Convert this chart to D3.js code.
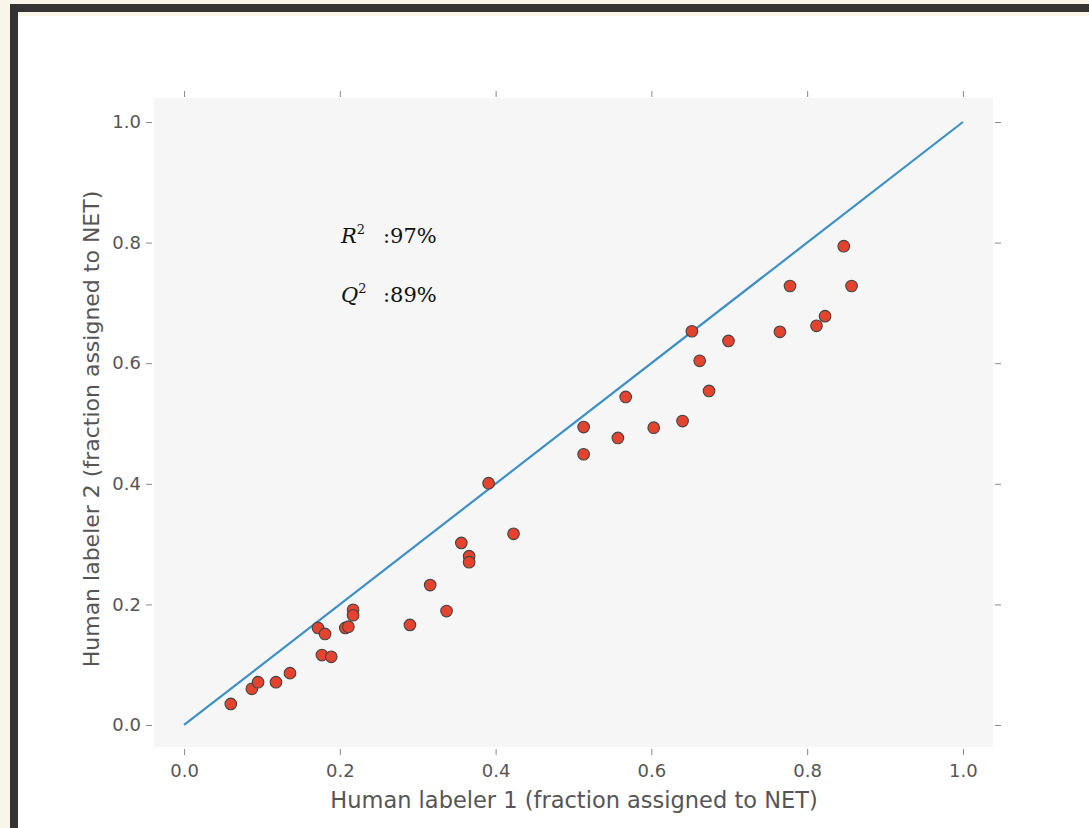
<!DOCTYPE html>
<html>
<head>
<meta charset="utf-8">
<script src="https://cdn.jsdelivr.net/npm/d3@7"></script>
<style>
  html, body { margin: 0; padding: 0; background: #f9f6e9; }
  svg { display: block; }
  .tick text { font-family: "DejaVu Sans", sans-serif; font-size: 18px; fill: #555; }
  .tick line { stroke: #888; }
</style>
</head>
<body>
<div id="chart"></div>
<script>
// human labeler agreement, fraction assigned to NET
var labeler1 = [0.060, 0.087, 0.095, 0.118, 0.136, 0.172, 0.181, 0.177, 0.189, 0.207,
                0.211, 0.217, 0.217, 0.290, 0.316, 0.337, 0.356, 0.366, 0.366, 0.391,
                0.423, 0.513, 0.513, 0.557, 0.567, 0.603, 0.640, 0.652, 0.662, 0.674,
                0.699, 0.765, 0.778, 0.812, 0.823, 0.847, 0.857];
var labeler2 = [0.035, 0.060, 0.071, 0.071, 0.086, 0.161, 0.151, 0.116, 0.113, 0.161,
                0.163, 0.191, 0.182, 0.166, 0.232, 0.189, 0.302, 0.280, 0.270, 0.401,
                0.317, 0.494, 0.449, 0.476, 0.544, 0.493, 0.504, 0.653, 0.604, 0.554,
                0.637, 0.652, 0.728, 0.662, 0.678, 0.794, 0.728];
var diagonal = [0, 1];
var tickValues = [0, 0.2, 0.4, 0.6, 0.8, 1.0];
var scores = [["R", ":97%"], ["Q", ":89%"]];

var width = 1089, height = 828;
var svg = d3.select('#chart').append('svg')
            .attr('width', width)
            .attr('height', height);

// page frame
svg.append('rect').attr('x', 10).attr('y', 4).attr('width', width).attr('height', height).attr('fill', '#333');
svg.append('rect').attr('x', 18).attr('y', 12).attr('width', width).attr('height', height).attr('fill', '#f9f6e9');
svg.append('rect').attr('x', 18).attr('y', 16).attr('width', width).attr('height', height).attr('fill', '#fff');

var x = d3.scaleLinear().domain([-0.0386, 1.0386]).range([154, 993]);
var y = d3.scaleLinear().domain([-0.0365, 1.0398]).range([747, 98]);

svg.append('rect')
   .attr('x', x(-0.0386)).attr('y', y(1.0398))
   .attr('width', x(1.0386) - x(-0.0386))
   .attr('height', y(-0.0365) - y(1.0398))
   .attr('fill', '#f6f6f6');

var fmt = d3.format('.1f');
svg.append('g').attr('transform', 'translate(0,749)')
   .call(d3.axisBottom(x).tickValues(tickValues).tickFormat(fmt).tickSize(6).tickPadding(9))
   .call(function(g){ g.select('.domain').remove(); });
svg.append('g').attr('transform', 'translate(0,97)')
   .call(d3.axisTop(x).tickValues(tickValues).tickFormat('').tickSize(6))
   .call(function(g){ g.select('.domain').remove(); });
svg.append('g').attr('transform', 'translate(152,0)')
   .call(d3.axisLeft(y).tickValues(tickValues).tickFormat(fmt).tickSize(6).tickPadding(5))
   .call(function(g){ g.select('.domain').remove(); });
svg.append('g').attr('transform', 'translate(995,0)')
   .call(d3.axisRight(y).tickValues(tickValues).tickFormat('').tickSize(6))
   .call(function(g){ g.select('.domain').remove(); });

svg.append('text')
   .attr('x', 574).attr('y', 808)
   .attr('text-anchor', 'middle')
   .style('font-family', '"DejaVu Sans", sans-serif')
   .style('font-size', '22.5px')
   .style('fill', '#555')
   .text('Human labeler 1 (fraction assigned to NET)');

svg.append('text')
   .attr('transform', 'translate(99,429) rotate(-90)')
   .attr('text-anchor', 'middle')
   .style('font-family', '"DejaVu Sans", sans-serif')
   .style('font-size', '22px')
   .style('fill', '#555')
   .text('Human labeler 2 (fraction assigned to NET)');

// y = x reference line
svg.append('line')
   .attr('x1', x(diagonal[0])).attr('y1', y(diagonal[0]))
   .attr('x2', x(diagonal[1])).attr('y2', y(diagonal[1]))
   .style('stroke', '#3d8fc6')
   .style('stroke-width', 2.2);

svg.append('g').selectAll('circle')
   .data(labeler1)
   .enter().append('circle')
   .attr('cx', function(d){ return x(d); })
   .attr('cy', function(d, i){ return y(labeler2[i]); })
   .attr('r', 5.8)
   .style('fill', '#e5432e')
   .style('stroke', '#444')
   .style('stroke-width', 1.1);

// fit scores
var score = svg.append('g').selectAll('text')
   .data(scores)
   .enter().append('text')
   .attr('x', 341)
   .attr('y', function(d, i){ return 243 + i * 59; })
   .style('font-family', '"DejaVu Serif", "Liberation Serif", serif')
   .style('font-size', '21px')
   .style('fill', '#111');
score.append('tspan').style('font-style', 'italic').text(function(d){ return d[0]; });
score.append('tspan').attr('dy', -9).style('font-size', '13px').text('2');
score.append('tspan').attr('x', 383).attr('dy', 9).text(function(d){ return d[1]; });
</script>
</body>
</html>
